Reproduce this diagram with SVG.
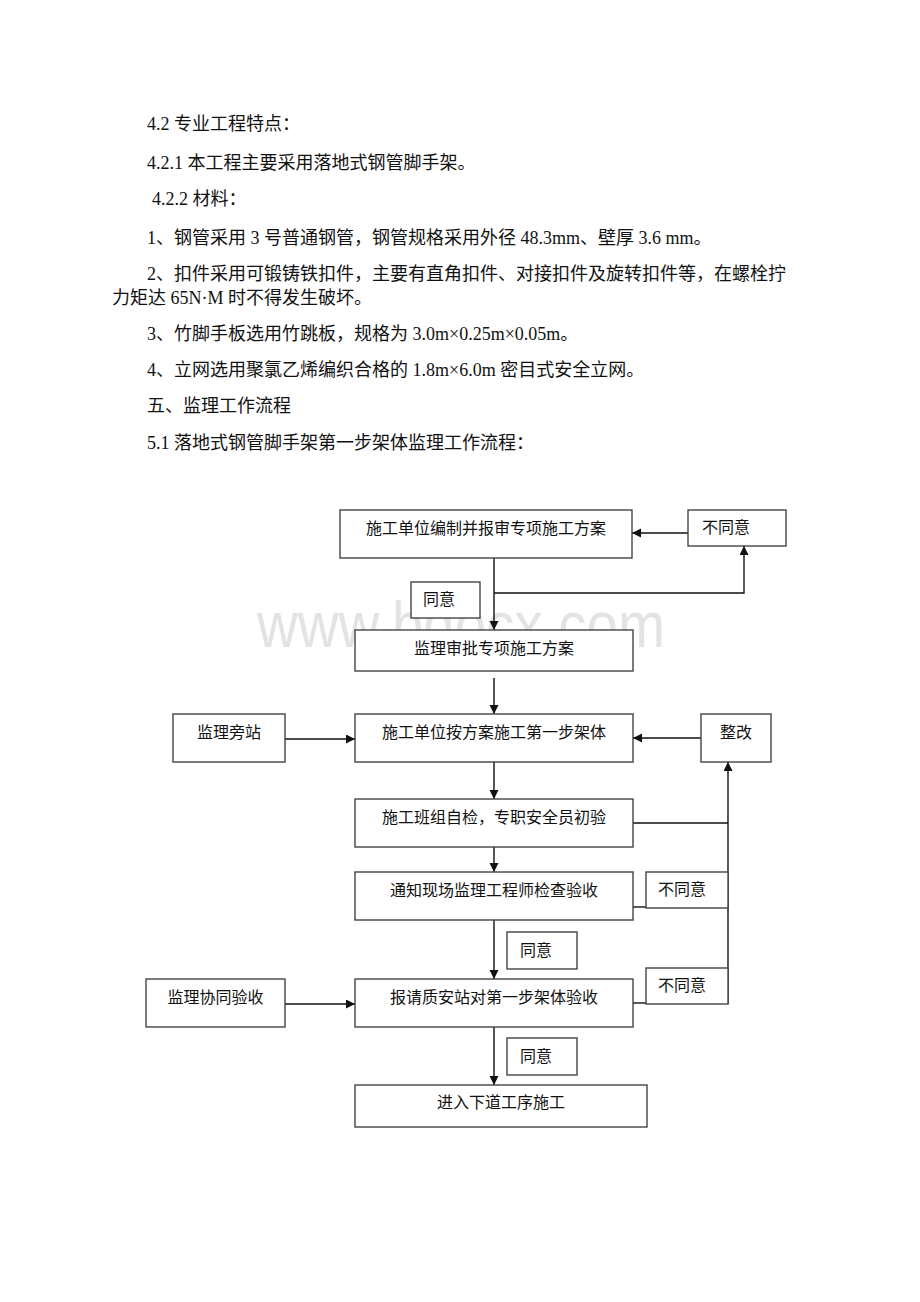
<svg xmlns="http://www.w3.org/2000/svg" width="920" height="1302" viewBox="0 0 920 1302">
<style>
.body{font-family:"Liberation Serif","Noto Sans CJK SC",serif;font-size:18px;fill:#111}
.box{fill:#fff;stroke:#444;stroke-width:1.4}
.t{font-family:"Liberation Sans","Noto Sans CJK SC",sans-serif;font-size:16px;fill:#111}
.c{text-anchor:middle}
.ln{fill:none;stroke:#111;stroke-width:1.4}
.arr{marker-end:url(#ah)}
.wm{font-family:"Liberation Sans","Noto Sans",sans-serif;font-size:64px;fill:#e3e3e3}
</style>
<defs>
<marker id="ah" markerUnits="userSpaceOnUse" markerWidth="10" markerHeight="10" refX="9" refY="4.5" orient="auto">
<path d="M0,0 L9,4.5 L0,9 z" fill="#111"/>
</marker>
</defs>
<rect width="920" height="1302" fill="#fff"/>

<g id="header">
<text class="body" x="147" y="130">4.2 专业工程特点：</text>
<text class="body" x="147" y="169">4.2.1 本工程主要采用落地式钢管脚手架。</text>
<text class="body" x="152" y="205">4.2.2 材料：</text>
<text class="body" x="147" y="244">1、钢管采用 3 号普通钢管，钢管规格采用外径 48.3mm、壁厚 3.6 mm。</text>
<text class="body" x="147" y="280">2、扣件采用可锻铸铁扣件，主要有直角扣件、对接扣件及旋转扣件等，在螺栓拧</text>
<text class="body" x="112" y="304">力矩达 65N·M 时不得发生破坏。</text>
<text class="body" x="147" y="340">3、竹脚手板选用竹跳板，规格为 3.0m×0.25m×0.05m。</text>
<text class="body" x="147" y="376">4、立网选用聚氯乙烯编织合格的 1.8m×6.0m 密目式安全立网。</text>
<text class="body" x="147" y="412">五、监理工作流程</text>
<text class="body" x="147" y="449">5.1 落地式钢管脚手架第一步架体监理工作流程：</text>
</g>

<text class="wm" x="257" y="647" textLength="408" lengthAdjust="spacingAndGlyphs">www.bdocx.com</text>

<g id="connectors">
<line class="ln arr" x1="688" y1="533" x2="632" y2="533"/>
<line class="ln arr" x1="494" y1="558" x2="494" y2="630"/>
<polyline class="ln arr" points="494,593 744,593 744,546"/>
<line class="ln arr" x1="494" y1="678" x2="494" y2="714"/>
<line class="ln arr" x1="285" y1="739" x2="355" y2="739"/>
<line class="ln arr" x1="701" y1="738" x2="633" y2="738"/>
<line class="ln arr" x1="494" y1="762" x2="494" y2="799"/>
<line class="ln" x1="633" y1="823" x2="728" y2="823"/>
<line class="ln arr" x1="494" y1="847" x2="494" y2="872"/>
<line class="ln" x1="633" y1="907" x2="646" y2="907"/>
<line class="ln arr" x1="728" y1="1004" x2="728" y2="762"/>
<line class="ln arr" x1="494" y1="920" x2="494" y2="979"/>
<line class="ln arr" x1="285" y1="1004" x2="355" y2="1004"/>
<line class="ln" x1="633" y1="1003" x2="646" y2="1003"/>
<line class="ln arr" x1="494" y1="1027" x2="494" y2="1085"/>
</g>

<g id="n1"><rect class="box" x="340" y="510" width="292" height="48"/><text class="t c" x="486" y="534">施工单位编制并报审专项施工方案</text></g>
<g id="n_disagree1"><rect class="box" x="688" y="510" width="98" height="36"/><text class="t" x="702" y="533">不同意</text></g>
<g id="n_agree1"><rect class="box" x="411" y="582" width="69" height="36"/><text class="t" x="423" y="605">同意</text></g>
<g id="n2"><rect class="box" x="355" y="630" width="278" height="41"/><text class="t c" x="494" y="654">监理审批专项施工方案</text></g>
<g id="n3"><rect class="box" x="355" y="714" width="278" height="48"/><text class="t c" x="494" y="738">施工单位按方案施工第一步架体</text></g>
<g id="n_side1"><rect class="box" x="173" y="714" width="112" height="48"/><text class="t c" x="229" y="738">监理旁站</text></g>
<g id="n_fix"><rect class="box" x="701" y="714" width="70" height="48"/><text class="t c" x="736" y="738">整改</text></g>
<g id="n4"><rect class="box" x="355" y="799" width="278" height="48"/><text class="t c" x="494" y="823">施工班组自检，专职安全员初验</text></g>
<g id="n5"><rect class="box" x="355" y="872" width="278" height="48"/><text class="t c" x="494" y="896">通知现场监理工程师检查验收</text></g>
<g id="n_disagree2"><rect class="box" x="646" y="872" width="82" height="36"/><text class="t" x="658" y="895">不同意</text></g>
<g id="n_agree2"><rect class="box" x="507" y="932" width="70" height="37"/><text class="t" x="520" y="956">同意</text></g>
<g id="n_disagree3"><rect class="box" x="646" y="968" width="82" height="36"/><text class="t" x="658" y="991">不同意</text></g>
<g id="n6"><rect class="box" x="355" y="979" width="278" height="48"/><text class="t c" x="494" y="1003">报请质安站对第一步架体验收</text></g>
<g id="n_side2"><rect class="box" x="146" y="979" width="139" height="48"/><text class="t c" x="215.5" y="1003">监理协同验收</text></g>
<g id="n_agree3"><rect class="box" x="507" y="1038" width="70" height="37"/><text class="t" x="520" y="1062">同意</text></g>
<g id="n7"><rect class="box" x="355" y="1085" width="292" height="42"/><text class="t c" x="501" y="1108">进入下道工序施工</text></g>
</svg>
